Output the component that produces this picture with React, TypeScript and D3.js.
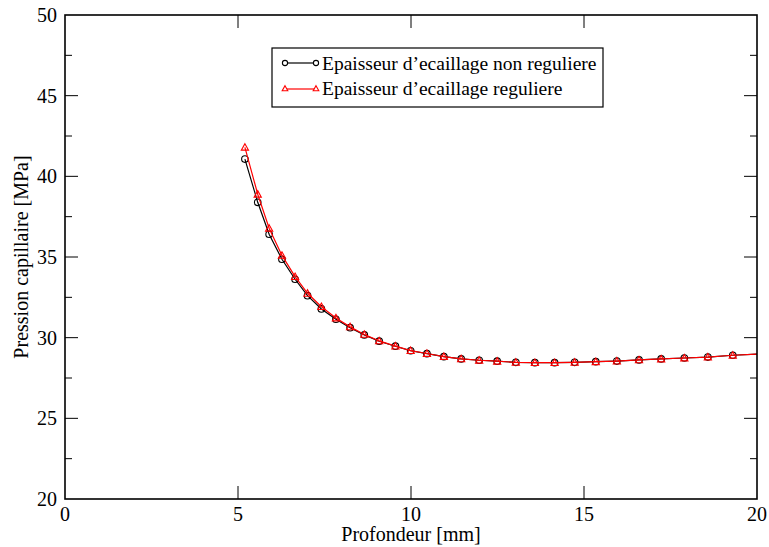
import React from "react";
import * as d3 from "d3";

const depthMm = [5.20, 5.57, 5.90, 6.27, 6.65, 7.01, 7.41, 7.83, 8.24, 8.65, 9.08, 9.55, 9.99, 10.46, 10.95, 11.45, 11.97, 12.49, 13.03, 13.58, 14.15, 14.73, 15.34, 15.95, 16.59, 17.23, 17.90, 18.58, 19.30, 20.04];
const pressionNonReguliere = [41.07, 38.39, 36.41, 34.86, 33.62, 32.60, 31.78, 31.14, 30.62, 30.17, 29.78, 29.47, 29.19, 29.01, 28.82, 28.68, 28.60, 28.54, 28.47, 28.45, 28.45, 28.47, 28.51, 28.55, 28.62, 28.68, 28.74, 28.80, 28.91, 28.99];
const pressionReguliere = [41.80, 38.89, 36.78, 35.10, 33.78, 32.75, 31.92, 31.22, 30.67, 30.20, 29.80, 29.48, 29.20, 29.02, 28.83, 28.69, 28.60, 28.54, 28.47, 28.45, 28.45, 28.47, 28.51, 28.55, 28.62, 28.68, 28.74, 28.80, 28.91, 28.99];

const xTicks = [0, 5, 10, 15, 20];
const yTicks = [20, 25, 30, 35, 40, 45, 50];
const yMinorTicks = [22.5, 27.5, 32.5, 37.5, 42.5, 47.5];
const seriesLabels = ["Epaisseur d\u2019ecaillage non reguliere", "Epaisseur d\u2019ecaillage reguliere"];
const xLabel = "Profondeur [mm]";
const yLabel = "Pression capillaire [MPa]";

const W = 769, H = 547;
const L = 65, R = 757, T = 15, B = 499;
const FONT = "'Liberation Serif', 'Times New Roman', serif";

export default function App() {
  const x = d3.scaleLinear().domain([0, 20]).range([L, R]);
  const y = d3.scaleLinear().domain([20, 50]).range([B, T]);
  const line = d3.line<number>().x((_, i) => x(depthMm[i])).y((v) => y(v));
  const triPath = (cx: number, cy: number, s = 3.6) =>
    `M${cx},${cy - s}L${cx + s},${cy + s * 0.8}L${cx - s},${cy + s * 0.8}Z`;

  const visible = depthMm.map((d, i) => i).filter((i) => depthMm[i] <= 20);

  return (
    <svg width={W} height={H} style={{ position: "absolute", left: 0, top: 0, background: "#fff" }} fontFamily={FONT}>
      <defs>
        <clipPath id="plot">
          <rect x={L} y={T} width={R - L} height={B - T} />
        </clipPath>
      </defs>
      <rect x={0} y={0} width={W} height={H} fill="#fff" />
      {xTicks.slice(1, -1).map((t) => (
        <g key={"xt" + t} stroke="#000" strokeWidth={1}>
          <line x1={x(t)} x2={x(t)} y1={B} y2={B - 13} />
          <line x1={x(t)} x2={x(t)} y1={T} y2={T + 13} />
        </g>
      ))}
      {yTicks.slice(1, -1).map((t) => (
        <g key={"yt" + t} stroke="#000" strokeWidth={1}>
          <line x1={L} x2={L + 13} y1={y(t)} y2={y(t)} />
          <line x1={R} x2={R - 13} y1={y(t)} y2={y(t)} />
        </g>
      ))}
      {yMinorTicks.map((t) => (
        <g key={"ym" + t} stroke="#000" strokeWidth={1}>
          <line x1={L} x2={L + 7} y1={y(t)} y2={y(t)} />
          <line x1={R} x2={R - 7} y1={y(t)} y2={y(t)} />
        </g>
      ))}
      <g clipPath="url(#plot)">
        <path d={line(pressionNonReguliere) || ""} fill="none" stroke="#000" strokeWidth={1.2} />
        {visible.map((i) => (
          <circle key={"c" + i} cx={x(depthMm[i])} cy={y(pressionNonReguliere[i])} r={3.3} fill="none" stroke="#000" strokeWidth={1.1} />
        ))}
        <path d={line(pressionReguliere) || ""} fill="none" stroke="#ff0000" strokeWidth={1.2} />
        {visible.map((i) => (
          <path key={"t" + i} d={triPath(x(depthMm[i]), y(pressionReguliere[i]))} fill="none" stroke="#ff0000" strokeWidth={1.1} />
        ))}
      </g>
      <rect x={L} y={T} width={R - L} height={B - T} fill="none" stroke="#000" strokeWidth={1.6} />
      {xTicks.map((t) => (
        <text key={"xl" + t} x={x(t)} y={B + 22} textAnchor="middle" fontSize={20} fill="#000">{t}</text>
      ))}
      {yTicks.map((t) => (
        <text key={"yl" + t} x={L - 8} y={y(t) + 7} textAnchor="end" fontSize={20} fill="#000">{t}</text>
      ))}
      <text x={(L + R) / 2} y={541} textAnchor="middle" fontSize={20} fill="#000">{xLabel}</text>
      <text transform={`translate(28,${(T + B) / 2}) rotate(-90)`} textAnchor="middle" fontSize={20} fill="#000">{yLabel}</text>
      <rect x={272} y={48} width={331} height={59} fill="#fff" stroke="#000" strokeWidth={1.2} />
      <line x1={285} x2={316} y1={63} y2={63} stroke="#000" strokeWidth={1.2} />
      <circle cx={285} cy={63} r={2.6} fill="#fff" stroke="#000" strokeWidth={1.1} />
      <circle cx={316} cy={63} r={2.6} fill="#fff" stroke="#000" strokeWidth={1.1} />
      <text x={322} y={70} fontSize={19.5} fill="#000">{seriesLabels[0]}</text>
      <line x1={285} x2={316} y1={89} y2={89} stroke="#ff0000" strokeWidth={1.2} />
      <path d={triPath(285, 88.5, 2.8)} fill="#fff" stroke="#ff0000" strokeWidth={1.1} />
      <path d={triPath(316, 88.5, 2.8)} fill="#fff" stroke="#ff0000" strokeWidth={1.1} />
      <text x={322} y={95} fontSize={19.5} fill="#000">{seriesLabels[1]}</text>
    </svg>
  );
}
